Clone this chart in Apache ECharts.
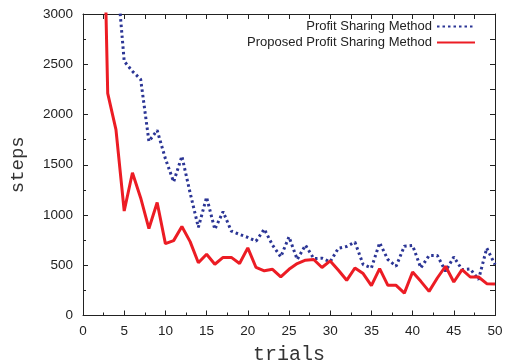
<!DOCTYPE html>
<html>
<head>
<meta charset="utf-8">
<script src="https://cdn.jsdelivr.net/npm/echarts@6/dist/echarts.min.js"></script>
<style>html,body{margin:0;padding:0;background:#fff;}#c{width:511px;height:361px;}</style>
</head>
<body>
<div id="c"></div>
<script>
var trials = [1,2,3,4,5,6,7,8,9,10,11,12,13,14,15,16,17,18,19,20,21,22,23,24,25,26,27,28,29,30,31,32,33,34,35,36,37,38,39,40,41,42,43,44,45,46,47,48,49,50];
var profitSharing = [6000,5000,4200,3500,2530,2430,2350,1733,1843,1560,1330,1585,1220,877,1177,857,1033,840,807,777,740,860,700,583,783,557,700,567,570,535,670,687,730,507,473,723,557,490,690,697,473,597,597,440,583,457,463,357,670,507];
var proposedProfitSharing = [8000,6000,2210,1850,1040,1420,1170,865,1125,715,745,885,735,525,610,510,578,578,518,673,478,445,460,385,460,517,550,557,478,543,450,350,473,417,297,467,300,300,223,433,340,240,373,490,333,457,383,383,317,313];
var yTicks = [0,500,1000,1500,2000,2500,3000];
var xTicks = [0,5,10,15,20,25,30,35,40,45,50];
var seriesNames = ['Profit Sharing Method','Proposed Profit Sharing Method'];
var axisNames = {x:'trials', y:'steps'};

function pairs(vals){ return trials.map(function(t,i){ return [t, vals[i]]; }); }

var frame = {lineStyle:{color:'#222', width:1}};
var chart = echarts.init(document.getElementById('c'), null, {renderer:'canvas'});
chart.setOption({
  animation:false,
  backgroundColor:'#fff',
  grid:{left:83, right:16, top:14, bottom:45.5, containLabel:false, outerBoundsMode:'none'},
  legend:{
    orient:'vertical', right:30, top:15, align:'right',
    itemWidth:38, itemHeight:14, itemGap:3,
    itemStyle:{opacity:0},
    textStyle:{fontFamily:'Liberation Sans', fontSize:13, color:'#222'},
    data:seriesNames
  },
  xAxis:[{
    type:'value', min:xTicks[0], max:xTicks[xTicks.length-1], interval:5,
    name:axisNames.x, nameLocation:'middle', nameGap:29,
    nameTextStyle:{fontFamily:'Liberation Mono', fontSize:20, color:'#333'},
    axisLine:{show:true, onZero:false, lineStyle:frame.lineStyle},
    axisTick:{show:true, inside:true, length:5, lineStyle:frame.lineStyle},
    minorTick:{show:true, splitNumber:2, length:3, lineStyle:frame.lineStyle},
    axisLabel:{margin:9, fontFamily:'Liberation Sans', fontSize:13.5, color:'#222'},
    splitLine:{show:false}
  },{
    type:'value', position:'top', min:xTicks[0], max:xTicks[xTicks.length-1], interval:5,
    axisLine:{show:true, onZero:false, lineStyle:frame.lineStyle},
    axisTick:{show:true, inside:true, length:5, lineStyle:frame.lineStyle},
    minorTick:{show:true, splitNumber:2, length:5, lineStyle:frame.lineStyle},
    axisLabel:{show:false}, splitLine:{show:false}
  }],
  yAxis:[{
    type:'value', min:yTicks[0], max:yTicks[yTicks.length-1], interval:500,
    name:axisNames.y, nameLocation:'middle', nameGap:56, nameRotate:90,
    nameTextStyle:{fontFamily:'Liberation Mono', fontSize:19, color:'#333'},
    axisLine:{show:true, onZero:false, lineStyle:frame.lineStyle},
    axisTick:{show:true, inside:true, length:5, lineStyle:frame.lineStyle},
    minorTick:{show:true, splitNumber:2, length:3, lineStyle:frame.lineStyle},
    axisLabel:{margin:10, fontFamily:'Liberation Sans', fontSize:13.5, color:'#222',
      formatter:function(v){ return String(v); }},
    splitLine:{show:false}
  },{
    type:'value', position:'right', min:yTicks[0], max:yTicks[yTicks.length-1], interval:500,
    axisLine:{show:true, onZero:false, lineStyle:frame.lineStyle},
    axisTick:{show:true, inside:true, length:5, lineStyle:frame.lineStyle},
    minorTick:{show:true, splitNumber:2, length:5, lineStyle:frame.lineStyle},
    axisLabel:{show:false}, splitLine:{show:false}
  }],
  series:[{
    name:seriesNames[0], type:'line', data:pairs(profitSharing),
    showSymbol:false, symbol:'none', clip:true,
    lineStyle:{color:'#2b3595', width:3, type:[2.5,3]},
    itemStyle:{color:'#2b3595'}
  },{
    name:seriesNames[1], type:'line', data:pairs(proposedProfitSharing),
    showSymbol:false, symbol:'none', clip:true,
    lineStyle:{color:'#ec1c24', width:3, type:'solid'},
    itemStyle:{color:'#ec1c24'}
  }]
});
</script>
</body>
</html>
